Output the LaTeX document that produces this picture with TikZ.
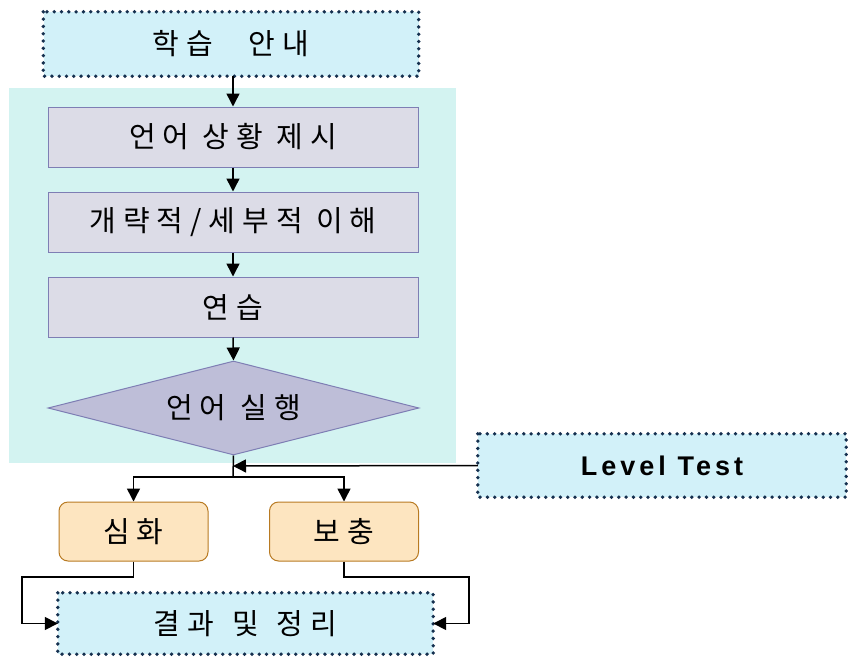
\documentclass[tikz,border=0pt]{standalone}
\usepackage{fontspec}
\setmainfont{Liberation Sans}
\newfontfamily\kr[LetterSpace=24]{Noto Sans CJK KR}
\newfontfamily\lat[LetterSpace=15]{Liberation Sans}
\usetikzlibrary{shapes.geometric,arrows.meta}
\definecolor{infofill}{HTML}{D2F1F9}
\definecolor{dotnavy}{HTML}{15304F}
\definecolor{zonefill}{HTML}{D3F3F1}
\definecolor{stepfill}{HTML}{DCDCE7}
\definecolor{stepline}{HTML}{7E7EB4}
\definecolor{decfill}{HTML}{BEBED8}
\definecolor{optfill}{HTML}{FDE5C0}
\definecolor{optline}{HTML}{B87A22}
\tikzset{
  x=1pt, y=-1pt,
  txt/.style={font=\kr\fontsize{29}{33}\selectfont, text=black},
  infobox/.style={rectangle, fill=infofill, inner sep=0pt, txt},
  dotframe/.style={draw=dotnavy, line width=3.8pt, line cap=round,
                   dash pattern=on 0pt off 7.3pt},
  stepbox/.style={rectangle, draw=stepline, fill=stepfill, line width=1pt,
                  minimum width=370pt, minimum height=60pt, inner sep=0pt, txt},
  decbox/.style={diamond, aspect=3.95, draw=stepline, fill=decfill, line width=1pt,
                 minimum width=371pt, minimum height=94pt, inner sep=0pt, txt},
  optbox/.style={rectangle, rounded corners=9pt, draw=optline, fill=optfill,
                 line width=1pt, minimum width=149pt, minimum height=59pt,
                 inner sep=0pt, txt},
  flow/.style={draw=black, line width=1.5pt,
               -{Triangle[length=13pt,width=13pt]}},
  wire/.style={draw=black, line width=1.5pt},
}
\begin{document}
\begin{tikzpicture}
\useasboundingbox (0,0) rectangle (848,656);

% shaded zone behind the core steps
\fill[zonefill] (9,88) rectangle (456,463);

% dotted information boxes
\node[infobox, minimum width=375pt, minimum height=64pt] (intro) at (231,44)
  {학습\hspace{36pt}안내};
\draw[dotframe] (intro.north west) rectangle (intro.south east);

\node[infobox, minimum width=368pt, minimum height=63pt] (level) at (662,465.5)
  {\lat\fontsize{27}{31}\selectfont\bfseries Level Test};
\draw[dotframe] (level.north west) rectangle (level.south east);

\node[infobox, minimum width=375pt, minimum height=61pt] (result) at (245.5,623.5)
  {결과\hspace{18pt}및\hspace{18pt}정리};
\draw[dotframe] (result.north west) rectangle (result.south east);

% core steps
\node[stepbox] (s1) at (233,137) {언어 상황 제시};
\node[stepbox] (s2) at (233,222) {개략적/세부적 이해};
\node[stepbox] (s3) at (233,307) {연습};
\node[decbox]  (s4) at (233.5,408) {언어\hspace{14pt}실행};

% follow-up options
\node[optbox] (deep) at (133.5,531.5) {심화};
\node[optbox] (supp) at (344,531.5) {보충};

% junction points
\coordinate (j) at (233,477);
\coordinate (jin) at (233,466);

% connectors
\draw[flow] (intro.south -| s1.north) -- (s1.north);
\draw[flow] (s1.south) -- (s2.north);
\draw[flow] (s2.south) -- (s3.north);
\draw[flow] (s3.south) -- (s4.north);
\draw[wire] (s4.south) -- (j);
\draw[flow] (level.west) -- (jin);
\draw[flow] (j) -| (deep.north);
\draw[flow] (j) -| (supp.north);
\draw[flow] (deep.south) |- (22,577) |- (result.west);
\draw[flow] (supp.south) |- (469,577) |- (result.east);
\end{tikzpicture}
\end{document}
